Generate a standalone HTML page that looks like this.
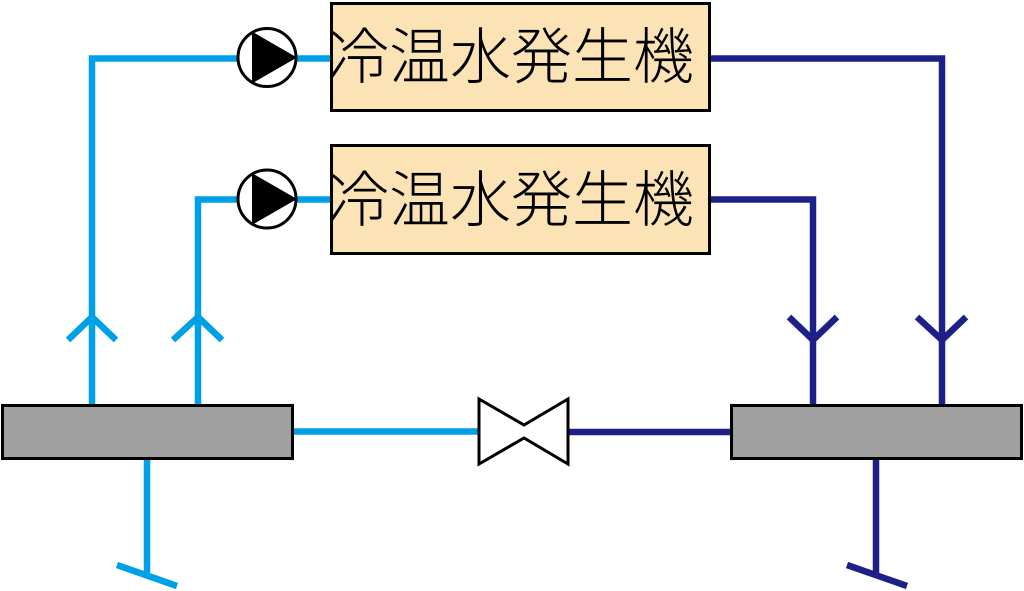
<!DOCTYPE html>
<html>
<head>
<meta charset="utf-8">
<style>
html,body{margin:0;padding:0;background:#fff;}
svg{display:block;}
text{font-family:"Liberation Sans","Noto Sans CJK JP",sans-serif;}
</style>
</head>
<body>
<svg width="1024" height="591" viewBox="0 0 1024 591" xmlns="http://www.w3.org/2000/svg">
  <!-- light blue pipes -->
  <g fill="none" stroke="#00A0E9" stroke-width="6.5" stroke-linejoin="miter" stroke-linecap="butt">
    <polyline points="92,405 92,58.5 238,58.5"/>
    <line x1="296" y1="58.5" x2="331" y2="58.5"/>
    <polyline points="198,405 198,199.5 238,199.5"/>
    <line x1="296" y1="199.5" x2="331" y2="199.5"/>
    <!-- up arrows -->
    <polyline points="68,340 92,317 116,340"/>
    <polyline points="173,340 198,317 222,340"/>
    <!-- header to valve -->
    <line x1="293" y1="431.5" x2="479" y2="431.5"/>
    <!-- bottom pipe -->
    <line x1="147" y1="459" x2="147" y2="577"/>
    <line x1="117" y1="565" x2="177" y2="586"/>
  </g>
  <!-- dark blue pipes -->
  <g fill="none" stroke="#1D2088" stroke-width="6.5" stroke-linejoin="miter" stroke-linecap="butt">
    <polyline points="709,58.5 942,58.5 942,405"/>
    <polyline points="709,199.5 813,199.5 813,405"/>
    <!-- down arrows -->
    <polyline points="789,317 813,340 837,317"/>
    <polyline points="917,317 942,340 966,317"/>
    <line x1="568" y1="432" x2="732" y2="432"/>
    <line x1="876" y1="459" x2="876" y2="577"/>
    <line x1="847" y1="565" x2="907" y2="586"/>
  </g>
  <!-- generator boxes -->
  <rect x="331.5" y="3.5" width="378" height="107" fill="#FCE3B5" stroke="#000" stroke-width="3"/>
  <rect x="331.5" y="145.5" width="378" height="108" fill="#FCE3B5" stroke="#000" stroke-width="3"/>
  <text x="328" y="78" font-size="61" font-weight="300" fill="#000" style="font-family:'Noto Sans CJK JP',sans-serif">冷温水発生機</text>
  <text x="328" y="221" font-size="61" font-weight="300" fill="#000" style="font-family:'Noto Sans CJK JP',sans-serif">冷温水発生機</text>
  <!-- pumps -->
  <g stroke="#000" stroke-width="3">
    <circle cx="267" cy="57.5" r="29" fill="#fff"/>
    <polygon points="296,57.5 252.5,32.5 252.5,82.5" fill="#000" stroke-width="1"/>
    <circle cx="267" cy="199" r="29" fill="#fff"/>
    <polygon points="296,199 252.5,174 252.5,224" fill="#000" stroke-width="1"/>
  </g>
  <!-- headers -->
  <rect x="2.5" y="405.5" width="290" height="53" fill="#9FA09F" stroke="#000" stroke-width="3"/>
  <rect x="731.5" y="405.5" width="290" height="53" fill="#9FA09F" stroke="#000" stroke-width="3"/>
  <!-- valve -->
  <polygon points="479,399 524,425 568,399 568,464 524,438 479,464" fill="#fff" stroke="#000" stroke-width="3" stroke-linejoin="miter"/>
</svg>
</body>
</html>
